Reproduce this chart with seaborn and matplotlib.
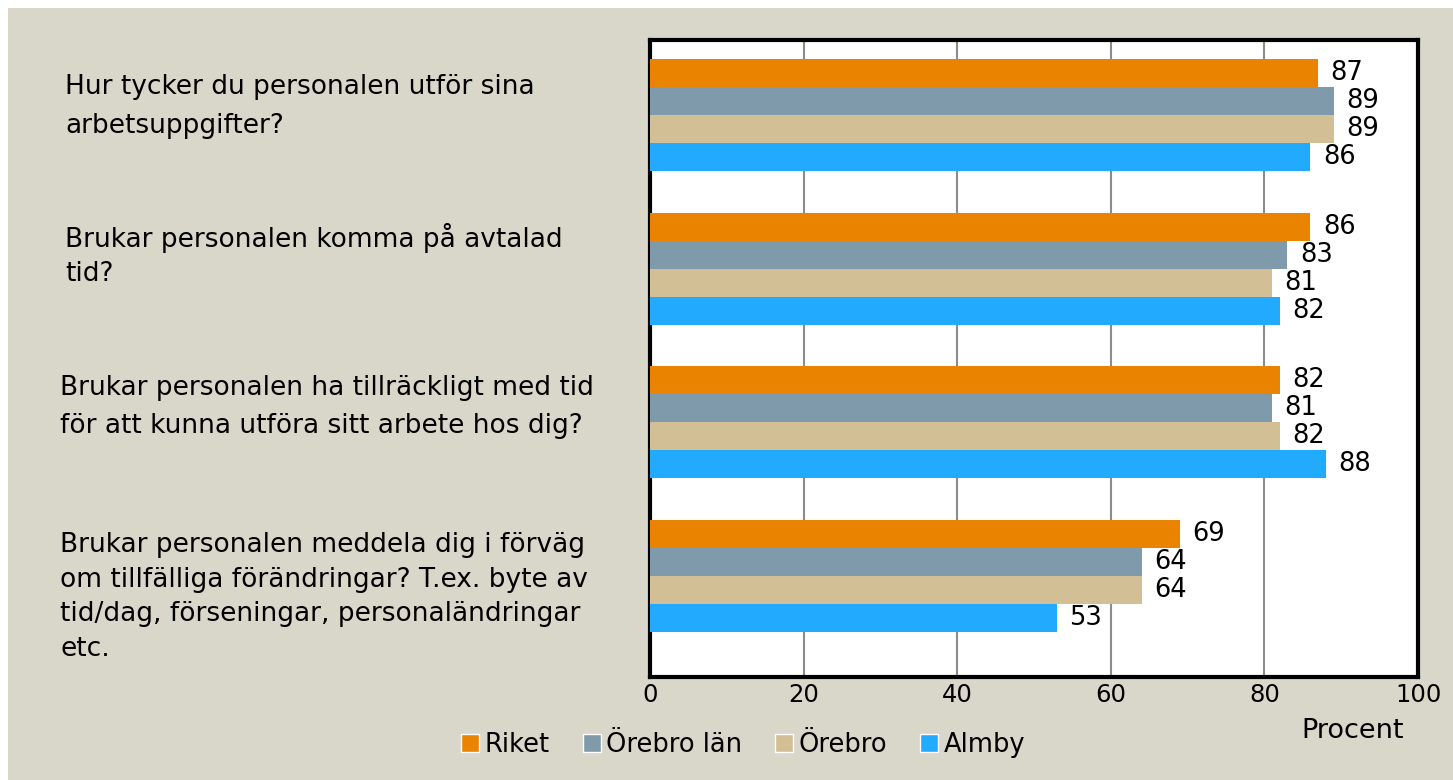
import pandas as pd
import seaborn as sns
import matplotlib.pyplot as plt
from matplotlib.patches import Rectangle
from matplotlib.transforms import blended_transform_factory

# Data
questions = [
    "Hur tycker du personalen utför sina\narbetsuppgifter?",
    "Brukar personalen komma på avtalad\ntid?",
    "Brukar personalen ha tillräckligt med tid\nför att kunna utföra sitt arbete hos dig?",
    "Brukar personalen meddela dig i förväg\nom tillfälliga förändringar? T.ex. byte av\ntid/dag, förseningar, personaländringar\netc.",
]
areas = ["Riket", "Örebro län", "Örebro", "Almby"]
riket = [87, 86, 82, 69]
orebro_lan = [89, 83, 81, 64]
orebro = [89, 81, 82, 64]
almby = [86, 82, 88, 53]
colors = ["#E98300", "#7F9BAB", "#D3BF96", "#22AAFF"]

rows = []
for area, vals in zip(areas, [riket, orebro_lan, orebro, almby]):
    for q, v in zip(questions, vals):
        rows.append({"question": q, "area": area, "value": v})
df = pd.DataFrame(rows)

bg = "#D9D7CA"
sns.set_style("white")
plt.rcParams['font.family'] = ['DejaVu Sans']
plt.rcParams['text.color'] = 'black'

fig = plt.figure(figsize=(14.53, 7.8), dpi=100, facecolor="white")
fig.patches.append(Rectangle((8 / 1453, 0), 1, 1 - 8 / 780, transform=fig.transFigure,
                             facecolor=bg, edgecolor="none", zorder=-10))
ax = fig.add_axes([650 / 1453, 1 - 677 / 780, 768 / 1453, 637 / 780])
ax.set_facecolor("white")

sns.barplot(data=df, y="question", x="value", hue="area", orient="h",
            order=questions, hue_order=areas, palette=colors, width=0.73,
            saturation=1, edgecolor="none", ax=ax, legend=False, zorder=3)

for c in ax.containers:
    ax.bar_label(c, labels=[str(int(v)) for v in c.datavalues], padding=9,
                 fontsize=18.5, color="black")

ax.set_xlim(0, 100)
ax.set_ylim(3.66, -0.49)
ax.set_xticks([0, 20, 40, 60, 80, 100])
ax.tick_params(axis="x", labelsize=17.5, length=0, pad=4, colors="black")
ax.xaxis.grid(True, color="#8C8C8C", linewidth=1.5, zorder=0)
ax.set_axisbelow(True)
ax.set_yticklabels([])
ax.tick_params(axis="y", length=0)
ax.set_ylabel("")
ax.set_xlabel("")
for s in ax.spines.values():
    s.set_visible(True)
    s.set_color("black")
    s.set_linewidth(3)

# Question labels on the left
label_x = [65, 65, 60, 60]
label_dy = [-0.06, -0.09, -0.1, 0.14]
label_ls = [1.65, 1.4, 1.6, 1.43]
tr = blended_transform_factory(fig.transFigure, ax.transData)
for i, q in enumerate(questions):
    fig.text(label_x[i] / 1453, i + label_dy[i], q, ha="left", va="center",
             fontsize=19, linespacing=label_ls[i], transform=tr)

ax.text(0.915, -0.065, "Procent", transform=ax.transAxes, ha="center", va="top", fontsize=19.5)

handles = [Rectangle((0, 0), 1, 1, facecolor=c) for c in colors]
fig.legend(handles, areas, loc="center", bbox_to_anchor=(743 / 1453, 1 - 745 / 780),
           ncol=4, frameon=False, fontsize=18.5, handlelength=0.7, handleheight=0.7,
           handletextpad=0.2, columnspacing=1.3)

fig.savefig("out.png", dpi=100, facecolor=fig.get_facecolor())
